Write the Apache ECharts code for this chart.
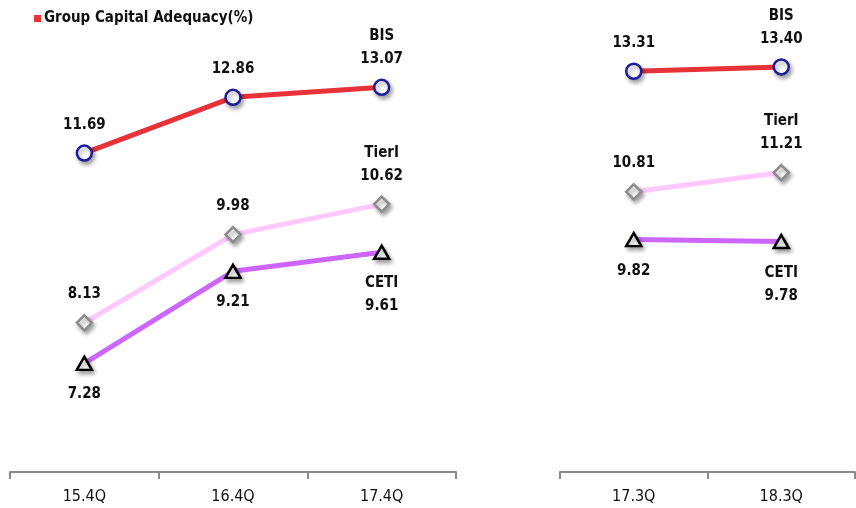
<!DOCTYPE html>
<html>
<head>
<meta charset="utf-8">
<script src="https://cdn.jsdelivr.net/npm/echarts@6/dist/echarts.min.js"></script>
<style>
  html, body { margin: 0; padding: 0; background: #fff; }
  #chart { width: 856px; height: 508px; }
</style>
</head>
<body>
<div id="chart"></div>
<script>
// Annual periods (left panel) and quarterly periods (right panel)
const annualPeriods = ['15.4Q', '16.4Q', '17.4Q'];
const quarterPeriods = ['17.3Q', '18.3Q'];

// Capital adequacy ratios, %
const bisAnnual = [11.69, 12.86, 13.07];
const tier1Annual = [8.13, 9.98, 10.62];
const cetiAnnual = [7.28, 9.21, 9.61];

const bisQuarter = [13.31, 13.40];
const tier1Quarter = [10.81, 11.21];
const cetiQuarter = [9.82, 9.78];

const legendTitle = 'Group Capital Adequacy(%)';

const FONT = '"DejaVu Sans Condensed", "Liberation Sans Narrow", sans-serif';

const shadow = {
  shadowColor: 'rgba(0,0,0,0.35)',
  shadowBlur: 4,
  shadowOffsetX: 2,
  shadowOffsetY: 3
};

const styles = {
  BIS:   { line: '#e8323a', border: '#1d1d9b', symbol: 'circle',  size: 15, pos: 'top', dist: 8 },
  TierI: { line: '#ffc9ff', border: '#8c8c8c', symbol: 'diamond', size: [15, 15], pos: 'top', dist: 8 },
  CETI:  { line: '#cc66ff', border: '#000000', symbol: 'triangle', size: [15, 13], pos: 'bottom', dist: 12 }
};

function makeSeries(name, values, axisIndex) {
  const st = styles[name];
  const last = values.length - 1;
  return {
    name: name,
    type: 'line',
    xAxisIndex: axisIndex,
    yAxisIndex: axisIndex,
    symbol: st.symbol,
    symbolSize: st.size,
    showAllSymbol: true,
    z: name === 'BIS' ? 4 : (name === 'TierI' ? 3 : 2),
    lineStyle: { color: st.line, width: 5 },
    itemStyle: Object.assign({ color: '#ffffff', borderColor: st.border, borderWidth: 2.5 }, shadow),
    label: {
      show: true,
      position: st.pos,
      distance: st.dist,
      fontFamily: FONT,
      fontWeight: 'bold',
      fontSize: 15,
      lineHeight: 23,
      color: '#111',
      formatter: p => (p.dataIndex === last ? name + '\n' + p.value.toFixed(2) : p.value.toFixed(2))
    },
    emphasis: { disabled: true },
    data: values
  };
}

function makeXAxis(gridIndex, cats) {
  return {
    type: 'category',
    gridIndex: gridIndex,
    data: cats,
    boundaryGap: true,
    axisLine: { lineStyle: { color: '#8a8a8a', width: 2 } },
    axisTick: { show: true, length: 7, lineStyle: { color: '#8a8a8a', width: 2 } },
    axisLabel: { fontFamily: FONT, fontSize: 16, color: '#111', margin: 17 }
  };
}

function makeYAxis(gridIndex) {
  return {
    type: 'value',
    gridIndex: gridIndex,
    min: 5,
    max: 14,
    show: false,
    splitLine: { show: false }
  };
}

const chart = echarts.init(document.getElementById('chart'), null, { renderer: 'canvas' });
chart.setOption({
  animation: false,
  backgroundColor: '#ffffff',
  legend: {
    left: 29,
    top: 6,
    itemWidth: 7,
    itemHeight: 7,
    itemGap: 4,
    data: [{ name: 'BIS', icon: 'rect', itemStyle: { color: '#e8323a', borderWidth: 0, shadowBlur: 0, shadowOffsetX: 0, shadowOffsetY: 0 } }],
    formatter: () => legendTitle,
    textStyle: { fontFamily: FONT, fontWeight: 'bold', fontSize: 15, color: '#111', padding: [0, 0, 0, -2] },
    selectedMode: false
  },
  grid: [
    { left: 10, width: 446, top: 43, bottom: 36 },
    { left: 560, width: 295, top: 38, bottom: 36 }
  ],
  xAxis: [makeXAxis(0, annualPeriods), makeXAxis(1, quarterPeriods)],
  yAxis: [makeYAxis(0), makeYAxis(1)],
  series: [
    makeSeries('BIS', bisAnnual, 0),
    makeSeries('TierI', tier1Annual, 0),
    makeSeries('CETI', cetiAnnual, 0),
    makeSeries('BIS', bisQuarter, 1),
    makeSeries('TierI', tier1Quarter, 1),
    makeSeries('CETI', cetiQuarter, 1)
  ]
});
</script>
</body>
</html>
